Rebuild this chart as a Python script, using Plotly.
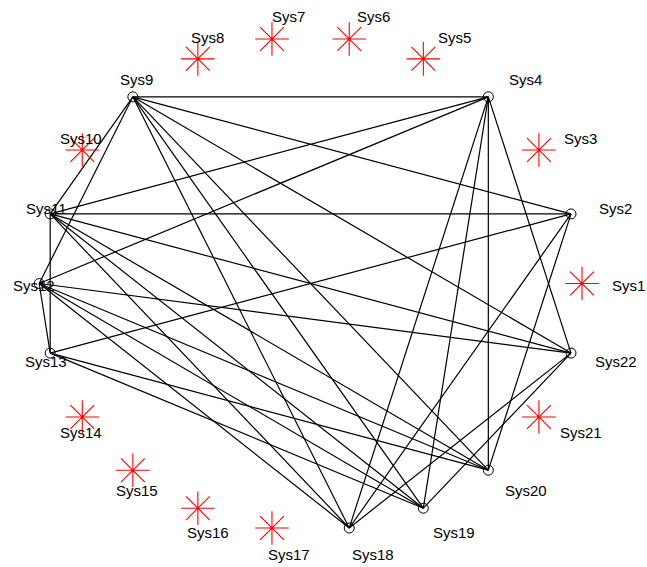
import math
import plotly.graph_objects as go

# Node names (placed counter-clockwise starting at the right)
nodes = ["Sys1", "Sys2", "Sys3", "Sys4", "Sys5", "Sys6", "Sys7", "Sys8", "Sys9", "Sys10", "Sys11",
         "Sys12", "Sys13", "Sys14", "Sys15", "Sys16", "Sys17", "Sys18", "Sys19", "Sys20", "Sys21", "Sys22"]

# Edge list (source, target)
edge_src = ["Sys9", "Sys9", "Sys9", "Sys9", "Sys9", "Sys9", "Sys9", "Sys9",
            "Sys4", "Sys4", "Sys4", "Sys4", "Sys4", "Sys4",
            "Sys2", "Sys2", "Sys2", "Sys2",
            "Sys11", "Sys11", "Sys11", "Sys11", "Sys11",
            "Sys12", "Sys12", "Sys12", "Sys12", "Sys12",
            "Sys13", "Sys13",
            "Sys22", "Sys22"]
edge_dst = ["Sys4", "Sys2", "Sys22", "Sys20", "Sys19", "Sys18", "Sys11", "Sys12",
            "Sys11", "Sys12", "Sys18", "Sys19", "Sys20", "Sys22",
            "Sys11", "Sys13", "Sys18", "Sys20",
            "Sys13", "Sys22", "Sys20", "Sys19", "Sys18",
            "Sys13", "Sys22", "Sys20", "Sys19", "Sys18",
            "Sys20", "Sys19",
            "Sys19", "Sys18"]

# circular layout
n = len(nodes)
pos = {}
for i, name in enumerate(nodes):
    a = 2 * math.pi * i / n
    pos[name] = (math.cos(a), math.sin(a))

connected = set(edge_src) | set(edge_dst)

ex, ey = [], []
for s, d in zip(edge_src, edge_dst):
    ex += [pos[s][0], pos[d][0], None]
    ey += [pos[s][1], pos[d][1], None]

fig = go.Figure()
fig.add_trace(go.Scatter(x=ex, y=ey, mode="lines",
                         line=dict(color="black", width=1.2),
                         hoverinfo="skip", showlegend=False))

cx = [pos[k][0] for k in nodes if k in connected]
cy = [pos[k][1] for k in nodes if k in connected]
fig.add_trace(go.Scatter(x=cx, y=cy, mode="markers",
                         marker=dict(symbol="circle-open", size=10,
                                     line=dict(color="black", width=1), color="black"),
                         showlegend=False))
ix = [pos[k][0] for k in nodes if k not in connected]
iy = [pos[k][1] for k in nodes if k not in connected]
fig.add_trace(go.Scatter(x=ix, y=iy, mode="markers",
                         marker=dict(symbol="asterisk-open", size=28,
                                     line=dict(color="red", width=1.1), color="red"),
                         showlegend=False))

# labels
for i, name in enumerate(nodes):
    a = 2 * math.pi * i / n
    lx = 1.094 * math.cos(a) + 0.0755
    ly = 1.101 * math.sin(a) - 0.007
    fig.add_annotation(x=lx, y=ly, text=name, showarrow=False,
                       font=dict(family="Liberation Sans, Arial, sans-serif", size=15, color="black"),
                       xanchor="center", yanchor="middle")

fig.update_layout(
    width=647, height=567,
    margin=dict(l=0, r=0, t=0, b=0),
    paper_bgcolor="white", plot_bgcolor="white",
    xaxis=dict(range=[-1.1444, 1.2395], visible=False, fixedrange=True),
    yaxis=dict(range=[-1.1477, 1.1478], visible=False, fixedrange=True),
)

fig.write_html("out.html", config={"displayModeBar": False},
               post_script="document.body.style.margin='0';document.body.style.overflow='hidden';")
